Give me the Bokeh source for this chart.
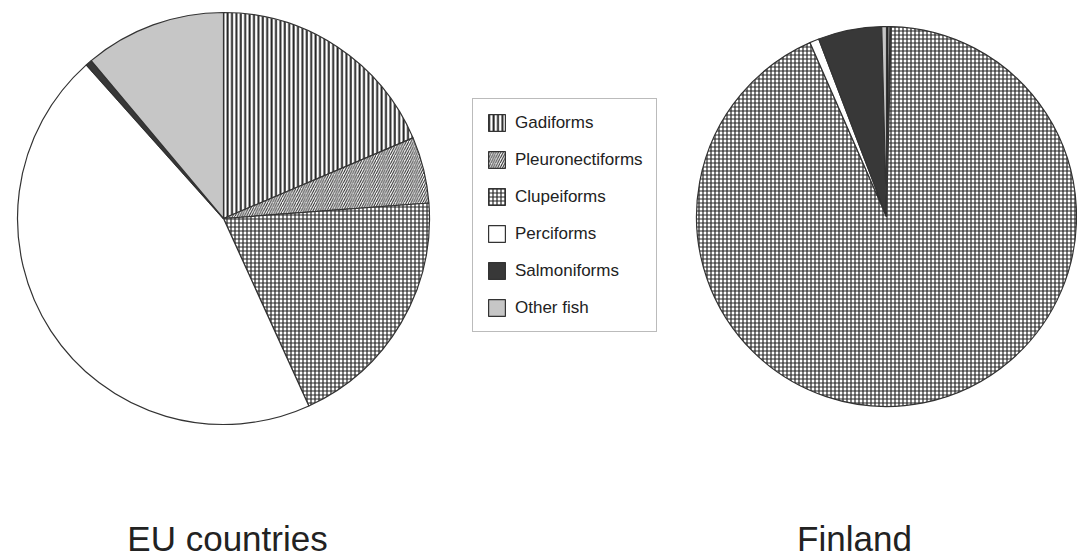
import numpy as np
from bokeh.plotting import figure
from bokeh.models import ColumnDataSource, Range1d, Legend, LegendItem
from bokeh.core.properties import value
from bokeh.embed import file_html
from bokeh.resources import INLINE

# ---- data (percent shares of catch) ----
categories = ["Gadiforms", "Pleuronectiforms", "Clupeiforms",
              "Perciforms", "Salmoniforms", "Other fish"]
eu_values = [18.6, 5.2, 19.4, 45.2, 0.5, 11.1]
finland_values = [0.3, 0.1, 93.0, 0.8, 5.4, 0.4]
chart_titles = ["EU countries", "Finland"]

# ---- styles ----
fill_colors = ["white", "white", "white", "white", "#383838", "#c6c6c6"]
hatch_patterns = ["vertical_line", "right_diagonal_line", "cross", " ", " ", " "]
hatch_scales = [4.4, 4.7, 4, 12, 12, 12]
hatch_weights = [2.0, 1.0, 1.2, 1, 1, 1]

W, H = 1077, 560
p = figure(width=W, height=H, output_backend="svg", toolbar_location=None,
           x_range=Range1d(0, W), y_range=Range1d(0, H),
           min_border=0, background_fill_color="white", border_fill_color="white")
p.axis.visible = False
p.grid.visible = False
p.outline_line_color = None


def pie_source(vals, cx, cy):
    v = np.array(vals, dtype=float)
    frac = v / v.sum()
    cum = np.concatenate([[0.0], np.cumsum(frac)])
    n = len(vals)
    return ColumnDataSource(dict(
        x=[cx] * n, y=[cy] * n,
        start=np.pi / 2 - 2 * np.pi * cum[1:],
        end=np.pi / 2 - 2 * np.pi * cum[:-1],
        cat=categories, fill=fill_colors, hatch=hatch_patterns,
        hs=hatch_scales, hw=hatch_weights))


def draw_pie(vals, cx, cy_screen, r):
    src = pie_source(vals, cx, H - cy_screen)
    return p.wedge(x="x", y="y", radius=r, start_angle="start", end_angle="end",
                   source=src, fill_color="fill", hatch_pattern="hatch",
                   hatch_scale="hs", hatch_weight="hw", hatch_color="#262626",
                   line_color="#333333", line_width=1.2)


eu_r = draw_pie(eu_values, 223, 218, 206)
fi_r = draw_pie(finland_values, 886, 216, 190)

legend = Legend(items=[LegendItem(label=c, renderers=[eu_r], index=i)
                       for i, c in enumerate(categories)],
                location=(472, 228), orientation="vertical",
                glyph_width=21, glyph_height=21, spacing=16, padding=13,
                label_standoff=8, margin=0,
                label_text_font="Liberation Sans", label_text_font_size="17px",
                label_text_color="#222222", label_text_baseline="middle",
                border_line_color="#777777", border_line_width=1.5,
                background_fill_color="white", background_fill_alpha=1.0)
p.add_layout(legend, "center")

p.text(x=[227, 854], y=[22, 22], text=chart_titles, text_align="center",
       text_baseline="middle", text_font=value("Liberation Sans"),
       text_font_size="35px", text_color="#222222")

open("out.html", "w").write(file_html(p, INLINE))
